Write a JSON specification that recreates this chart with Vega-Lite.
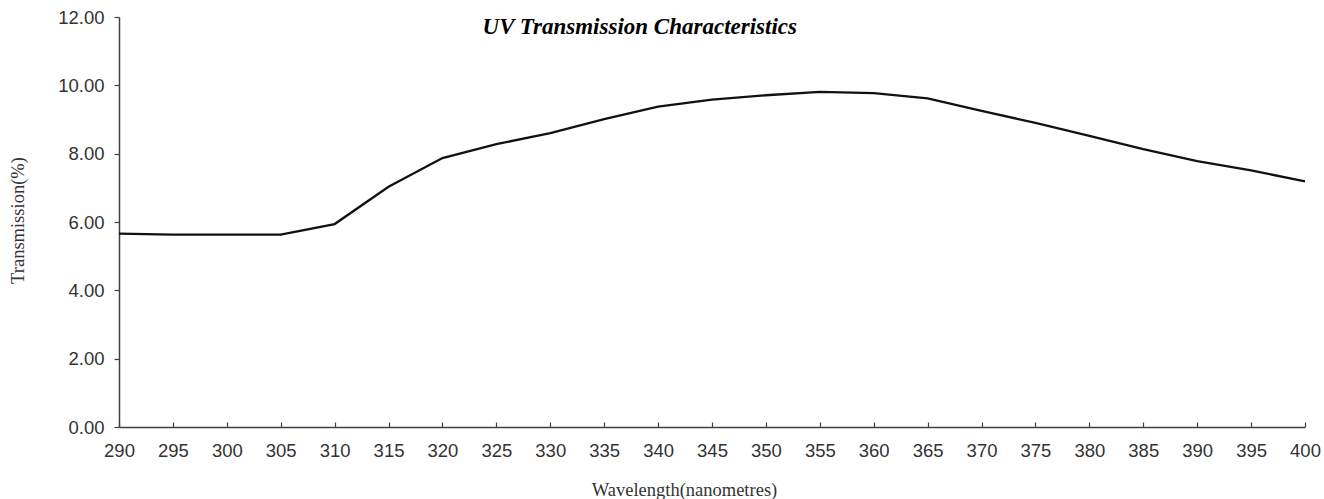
{
  "$schema": "https://vega.github.io/schema/vega-lite/v6.json",
  "autosize": "none",
  "width": 1186,
  "height": 410,
  "padding": {"left": 119, "top": 17, "right": 19, "bottom": 72},
  "background": "white",
  "datasets": {
    "series": [
      {"wavelength": 290, "transmission": 5.66},
      {"wavelength": 295, "transmission": 5.63},
      {"wavelength": 300, "transmission": 5.63},
      {"wavelength": 305, "transmission": 5.63},
      {"wavelength": 310, "transmission": 5.94},
      {"wavelength": 315, "transmission": 7.03},
      {"wavelength": 320, "transmission": 7.87},
      {"wavelength": 325, "transmission": 8.28},
      {"wavelength": 330, "transmission": 8.60},
      {"wavelength": 335, "transmission": 9.01},
      {"wavelength": 340, "transmission": 9.38},
      {"wavelength": 345, "transmission": 9.58},
      {"wavelength": 350, "transmission": 9.71},
      {"wavelength": 355, "transmission": 9.81},
      {"wavelength": 360, "transmission": 9.77},
      {"wavelength": 365, "transmission": 9.62},
      {"wavelength": 370, "transmission": 9.25},
      {"wavelength": 375, "transmission": 8.90},
      {"wavelength": 380, "transmission": 8.52},
      {"wavelength": 385, "transmission": 8.13},
      {"wavelength": 390, "transmission": 7.78},
      {"wavelength": 395, "transmission": 7.51},
      {"wavelength": 400, "transmission": 7.19}
    ],
    "heading": [
      {"label": "UV Transmission Characteristics", "wavelength": 338.3, "transmission": 11.7}
    ]
  },
  "layer": [
    {
      "data": {"name": "series"},
      "mark": {"type": "line", "color": "#111111", "strokeWidth": 2.3, "interpolate": "linear"},
      "encoding": {
        "x": {
          "field": "wavelength",
          "type": "quantitative",
          "scale": {"domain": [290, 400], "nice": false, "zero": false},
          "axis": {
            "title": "Wavelength(nanometres)",
            "values": [290, 295, 300, 305, 310, 315, 320, 325, 330, 335, 340, 345, 350, 355, 360, 365, 370, 375, 380, 385, 390, 395, 400],
            "grid": false,
            "labelFlush": false,
            "labelOverlap": false,
            "domainColor": "#404040",
            "domainWidth": 1.5,
            "tickColor": "#404040",
            "tickWidth": 1.2,
            "tickSize": -5,
            "labelFont": "Liberation Sans",
            "labelFontSize": 18.5,
            "labelColor": "#333333",
            "labelPadding": 19,
            "titleFont": "Liberation Serif",
            "titleFontSize": 18.5,
            "titleFontWeight": "normal",
            "titleColor": "#333333",
            "titleX": 565,
            "titleY": 68,
            "titleBaseline": "alphabetic",
            "titleAlign": "center"
          }
        },
        "y": {
          "field": "transmission",
          "type": "quantitative",
          "scale": {"domain": [0, 12], "nice": false},
          "axis": {
            "title": "Transmission(%)",
            "values": [0, 2, 4, 6, 8, 10, 12],
            "format": ".2f",
            "grid": false,
            "domainColor": "#404040",
            "domainWidth": 1.5,
            "tickColor": "#404040",
            "tickWidth": 1.2,
            "tickSize": 5,
            "labelFont": "Liberation Sans",
            "labelFontSize": 18.5,
            "labelColor": "#333333",
            "labelPadding": 10,
            "titleFont": "Liberation Serif",
            "titleFontSize": 18.5,
            "titleFontWeight": "normal",
            "titleColor": "#333333",
            "titleX": -102,
            "titleY": 203,
            "titleAngle": -90,
            "titleBaseline": "middle",
            "titleAlign": "center"
          }
        }
      }
    },
    {
      "data": {"name": "heading"},
      "mark": {
        "type": "text",
        "font": "Liberation Serif",
        "fontSize": 23,
        "fontWeight": "bold",
        "fontStyle": "italic",
        "color": "#000000",
        "align": "center",
        "baseline": "middle"
      },
      "encoding": {
        "x": {"field": "wavelength", "type": "quantitative"},
        "y": {"field": "transmission", "type": "quantitative"},
        "text": {"field": "label"}
      }
    }
  ],
  "config": {"view": {"stroke": null}}
}
